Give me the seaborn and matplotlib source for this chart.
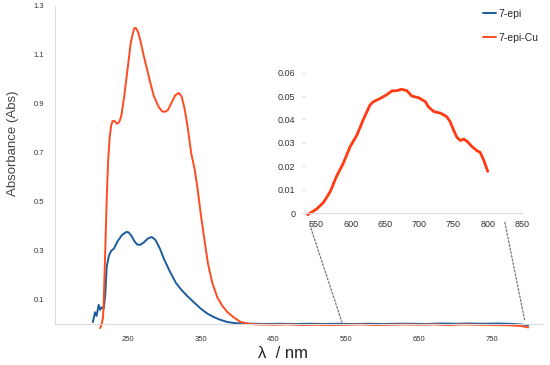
import matplotlib
matplotlib.use('Agg')
import matplotlib.pyplot as plt
import pandas as pd
import seaborn as sns
from matplotlib.lines import Line2D
from matplotlib.patches import ConnectionPatch

# 7-epi (blue)
epi_wl = [202, 205, 207, 210, 212, 214, 217, 219, 221, 224, 227, 231, 236, 242,
          248, 251, 255, 259, 263, 267, 272, 278, 283, 288, 294, 300, 308, 316,
          324, 332, 341, 350, 359, 368, 378, 387, 396, 405, 420, 440, 460, 480,
          500, 520, 540, 560, 580, 600, 620, 640, 660, 680, 700, 720, 740, 760,
          780, 790, 800]
epi_abs = [0.01, 0.05, 0.035, 0.08, 0.06, 0.07, 0.065, 0.12, 0.235, 0.28, 0.30,
           0.31, 0.34, 0.365, 0.378, 0.376, 0.362, 0.34, 0.326, 0.325, 0.335,
           0.352, 0.357, 0.345, 0.31, 0.265, 0.215, 0.17, 0.14, 0.115, 0.09,
           0.065, 0.045, 0.03, 0.018, 0.01, 0.006, 0.004, 0.003, 0.002, 0.003,
           0.002, 0.003, 0.002, 0.003, 0.002, 0.003, 0.002, 0.003, 0.003, 0.002,
           0.004, 0.003, 0.004, 0.003, 0.004, 0.002, 0.0, -0.003]

# 7-epi-Cu (orange)
cu_wl = [212, 214, 216, 217, 219, 221, 223, 225, 227, 229, 232, 235, 238, 241,
         245, 250, 254, 257, 259, 261, 264, 268, 272, 277, 281, 286, 292, 297,
         301, 305, 310, 315, 320, 324, 328, 332, 337, 342, 346, 350, 355, 360,
         366, 373, 380, 387, 395, 405, 418, 430, 450, 470, 490, 510, 530, 550,
         570, 590, 610, 630, 650, 670, 690, 710, 730, 750, 770, 790, 800]
cu_abs = [-0.015, 0.0, 0.03, 0.1, 0.3, 0.51, 0.67, 0.76, 0.81, 0.83, 0.83, 0.82,
          0.825, 0.85, 0.93, 1.05, 1.15, 1.19, 1.21, 1.21, 1.195, 1.15, 1.095,
          1.035, 0.985, 0.93, 0.89, 0.87, 0.868, 0.875, 0.905, 0.935, 0.945,
          0.93, 0.88, 0.81, 0.70, 0.63, 0.55, 0.455, 0.35, 0.25, 0.17, 0.11,
          0.075, 0.05, 0.03, 0.01, 0.002, 0.0, -0.001, 0.0, -0.002, -0.001,
          -0.002, -0.001, 0.0, -0.002, -0.001, 0.0, -0.001, 0.0, -0.002, 0.0,
          -0.001, -0.002, -0.003, -0.006, -0.012]

# inset: 7-epi-Cu visible band
zoom_wl = [537, 550, 560, 570, 579, 589, 599, 609, 618, 628, 633, 643, 652, 660,
           667, 674, 682, 689, 699, 709, 713, 721, 731, 740, 745, 750, 755, 760,
           765, 770, 777, 784, 789, 794, 800]
zoom_abs = [-0.0007, 0.0017, 0.0045, 0.0092, 0.0156, 0.0213, 0.0284, 0.0334,
            0.0398, 0.0462, 0.0476, 0.049, 0.0505, 0.0522, 0.0523, 0.0529,
            0.0523, 0.05, 0.0493, 0.0476, 0.0455, 0.0434, 0.0427, 0.0412,
            0.0391, 0.0355, 0.0324, 0.031, 0.0316, 0.0306, 0.0284, 0.0267,
            0.0259, 0.0227, 0.0178]

main_xticks = [250, 350, 450, 550, 650, 750]
main_yticks = [0.1, 0.3, 0.5, 0.7, 0.9, 1.1, 1.3]
inset_xticks = [550, 600, 650, 700, 750, 800, 850]
inset_yticks = [0, 0.01, 0.02, 0.03, 0.04, 0.05, 0.06]

blue = '#1B5C9B'
orange = '#FF4B1F'

sns.set_style('white')
plt.rcParams['font.family'] = ['Liberation Sans', 'DejaVu Sans']

epi = pd.DataFrame({'wl': epi_wl, 'abs': epi_abs})
cu = pd.DataFrame({'wl': cu_wl, 'abs': cu_abs})
zoom = pd.DataFrame({'wl': zoom_wl, 'abs': zoom_abs})

fig = plt.figure(figsize=(5.5, 3.65), dpi=100)
ax = fig.add_axes([0.1, 0.111, 0.887, 0.8726])

sns.lineplot(data=epi, x='wl', y='abs', ax=ax, color=blue, lw=1.4,
             estimator=None, sort=False, clip_on=False)
sns.lineplot(data=cu, x='wl', y='abs', ax=ax, color=orange, lw=1.4,
             estimator=None, sort=False, clip_on=False)

ax.set_xlim(150, 820)
ax.set_ylim(0, 1.3)
ax.set_xticks(main_xticks)
ax.set_yticks(main_yticks)
ax.tick_params(labelsize=5.5, colors='#333333', length=0, pad=8)
for side in ['top', 'right']:
    ax.spines[side].set_visible(False)
for side in ['left', 'bottom']:
    ax.spines[side].set_color('#DDDDDD')
    ax.spines[side].set_linewidth(0.8)

ax.set_ylabel('Absorbance (Abs)', fontsize=9.5, color='#444444')
ax.yaxis.set_label_coords(-0.086, 0.57)
ax.yaxis.label.set_va('center')
ax.set_xlabel('λ  / nm', fontsize=12, color='#222222')
ax.xaxis.set_label_coords(0.467, -0.09)
ax.xaxis.label.set_va('center')

handles = [Line2D([], [], color=blue, lw=1.4), Line2D([], [], color=orange, lw=1.4)]
ax.legend(handles, ['7-epi', '7-epi-Cu'], loc='upper right',
          bbox_to_anchor=(1.01, 1.02), frameon=False, fontsize=7.5,
          handlelength=1.3, handletextpad=0.2, labelspacing=1.3)

axin = fig.add_axes([0.5545, 0.4164, 0.3945, 0.3973])
axin.set_facecolor('none')
sns.lineplot(data=zoom, x='wl', y='abs', ax=axin, color='#FF3A12', lw=2.0,
             estimator=None, sort=False, clip_on=False)
axin.set_xlim(533, 850)
axin.set_ylim(0, 0.062)
axin.set_xticks(inset_xticks)
axin.set_yticks(inset_yticks)
axin.set_yticklabels(['0', '0.01', '0.02', '0.03', '0.04', '0.05', '0.06'])
axin.tick_params(labelsize=6.5, colors='#333333', pad=5)
axin.tick_params(axis='y', length=2, color='#DDDDDD', left=True)
axin.tick_params(axis='x', length=0)
axin.set_xlabel('')
axin.set_ylabel('')
for side in ['top', 'right', 'left']:
    axin.spines[side].set_visible(False)
axin.spines['bottom'].set_color('#DDDDDD')
axin.spines['bottom'].set_linewidth(0.8)

for (xa, ya), (xb, yb) in [((540, -0.005), (544, 0.01)), ((825, -0.004), (795, 0.018))]:
    con = ConnectionPatch(xyA=(xa, ya), coordsA=axin.transData,
                          xyB=(xb, yb), coordsB=ax.transData,
                          color='#777777', lw=0.9, linestyle=(0, (1.5, 1.5)))
    fig.add_artist(con)

fig.savefig('out.png', dpi=100)
